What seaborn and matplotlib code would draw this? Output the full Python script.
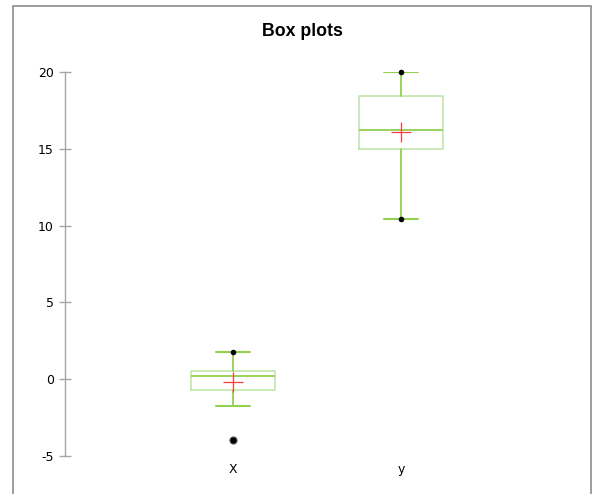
import matplotlib

matplotlib.use("Agg")
import matplotlib.pyplot as plt
import pandas as pd
import seaborn as sns
from matplotlib.patches import Rectangle

# values
variables = ["X", "y"]
q1 = [-0.72, 15.0]
median = [0.23, 16.24]
q3 = [0.53, 18.45]
whisker_low = [-1.74, 10.45]
whisker_high = [1.77, 19.98]
means = [-0.18, 16.11]
minimum = [-3.98, 10.45]
maximum = [1.77, 19.98]
outliers = [[-3.98], []]


def main() -> None:
    sns.set_theme(style="white")
    plt.rcParams["font.family"] = ["DejaVu Sans"]
    plt.rcParams["axes.unicode_minus"] = False

    fig = plt.figure(figsize=(5.92, 4.94), dpi=100)
    ax = fig.add_axes([65 / 592, 1 - 456 / 494, 504 / 592, 384 / 494])

    stats = []
    for i, name in enumerate(variables):
        stats.append({
            "label": name,
            "med": median[i],
            "q1": q1[i],
            "q3": q3[i],
            "whislo": whisker_low[i],
            "whishi": whisker_high[i],
            "fliers": [],
        })

    green = "#92d050"
    light_green = "#bde3a4"
    ax.bxp(
        stats,
        positions=range(len(variables)),
        widths=0.5,
        capwidths=0.2,
        showfliers=False,
        boxprops={"color": light_green, "linewidth": 1.1},
        medianprops={"color": green, "linewidth": 1.3},
        whiskerprops={"color": green, "linewidth": 1.3},
        capprops={"color": green, "linewidth": 1.5},
    )

    pos = list(range(len(variables)))
    ext = pd.DataFrame({"pos": pos * 2, "value": minimum + maximum})
    out_pos = [p for p, vals in zip(pos, outliers) for _ in vals]
    out_vals = [v for vals in outliers for v in vals]
    ext = ext[~ext["value"].isin(out_vals)]
    sns.scatterplot(data=ext, x="pos", y="value", ax=ax, color="black",
                    s=16, linewidth=0, zorder=5, legend=False, clip_on=False)
    sns.scatterplot(x=out_pos, y=out_vals, ax=ax, color="black", s=26,
                    edgecolor="#555555", linewidth=0.8, zorder=5, legend=False)
    sns.scatterplot(x=pos, y=means, ax=ax, marker="+", color="#ff3b3b",
                    s=190, linewidth=0.9, zorder=6, legend=False)

    ax.set_xlim(-1, 2)
    ax.set_ylim(-5, 20)
    ax.set_yticks([-5, 0, 5, 10, 15, 20])
    ax.set_xticks(pos)
    ax.set_xticklabels(variables)
    ax.set_xlabel("")
    ax.set_ylabel("")

    for side in ["top", "right", "bottom"]:
        ax.spines[side].set_visible(False)
    ax.spines["left"].set_color("#a6a6a6")
    ax.spines["left"].set_linewidth(1.0)
    ax.tick_params(axis="y", direction="inout", length=8, width=1.0,
                   color="#a6a6a6", labelsize=9, labelcolor="black", pad=4, left=True)
    ax.tick_params(axis="x", length=0, labelsize=9, labelcolor="black", pad=5)

    fig.text(302 / 592, 1 - 32 / 494, "Box plots", ha="center", va="center",
             fontsize=12.8, fontweight="bold", color="black",
             family=["Liberation Sans", "DejaVu Sans"])

    frame = Rectangle((13 / 592, -0.1), (591 - 13) / 592, 0.1 + (1 - 6 / 494),
                      transform=fig.transFigure, fill=False, edgecolor="#8c8c8c",
                      linewidth=1.2, clip_on=False)
    fig.patches.append(frame)

    fig.savefig("out.png", dpi=100)
    plt.close(fig)


if __name__ == "__main__":
    main()
